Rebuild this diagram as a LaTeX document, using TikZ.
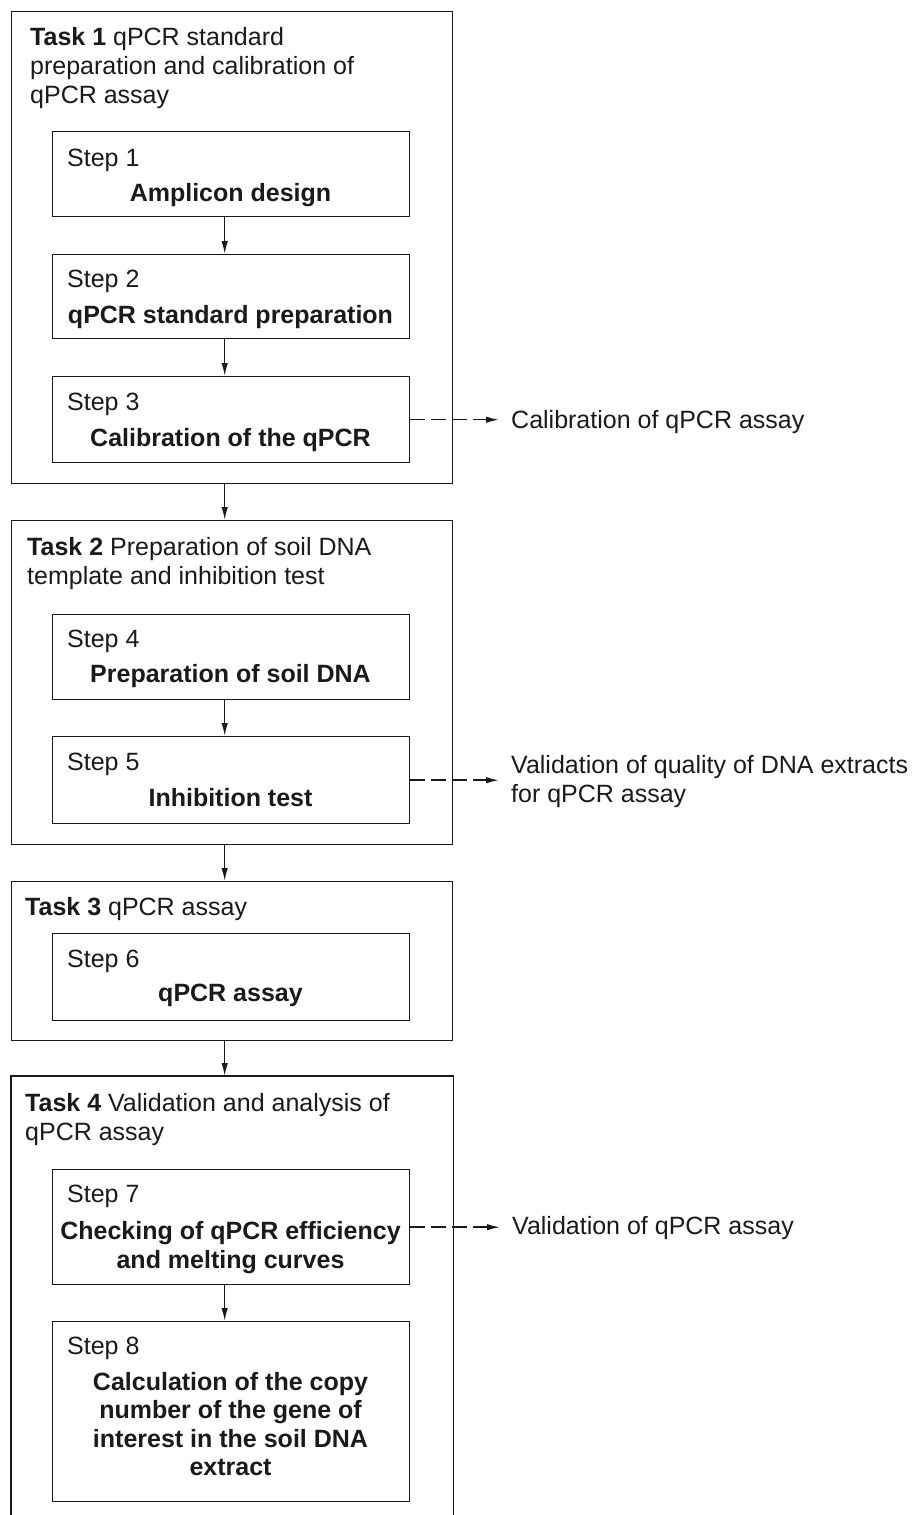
\documentclass[tikz,border=0pt]{standalone}
\usepackage{fontspec}
\setmainfont{Liberation Sans}
\usetikzlibrary{arrows.meta,calc}
\definecolor{ink}{HTML}{1A1A1A}
\begin{document}
\begin{tikzpicture}[x=1pt,y=-1pt,
  every node/.style={text=ink,font=\fontsize{25}{29}\selectfont},
  taskbox/.style={draw=ink,line width=1.4pt,minimum width=441pt,inner sep=0pt,anchor=north west},
  stepbox/.style={draw=ink,line width=1.4pt,minimum width=357pt,inner sep=0pt,anchor=north west},
  steplbl/.style={anchor=base west,inner sep=0pt},
  title/.style={anchor=north,inner sep=0pt,align=center,font=\fontsize{25}{29}\selectfont\bfseries},
  head/.style={anchor=north west,inner sep=0pt,align=left},
  note/.style={anchor=base west,inner sep=0pt},
  arr/.style={draw=ink,line width=1.5pt,-{Latex[length=13pt,width=6.5pt]}},
  dasharr/.style={draw=ink,line width=1.5pt,dash pattern=on 15pt off 6pt,-{Latex[length=13pt,width=6.5pt]}}]
\useasboundingbox (0,0) rectangle (920,1515);
\fill[white] (0,0) rectangle (920,1515);

% Task boxes
\node[taskbox,minimum height=472pt] (t1) at (11,11) {};
\node[taskbox,minimum height=324pt] (t2) at (11,520) {};
\node[taskbox,minimum height=159pt] (t3) at (11,881) {};
\node[taskbox,draw=none,minimum height=445pt] (t4) at (11,1076) {};
\draw[draw=ink,line width=1.4pt] (t4.south west) -- (t4.north west) -- (t4.north east) -- (t4.south east);

% Task headings
\node[head] (h1) at (30,26.8) {\textbf{Task 1} qPCR standard\\preparation and calibration of\\qPCR assay};
\node[head] (h2) at (27,537) {\textbf{Task 2} Preparation of soil DNA\\template and inhibition test};
\node[head] (h3) at (25,897) {\textbf{Task 3} qPCR assay};
\node[head] (h4) at (25,1093) {\textbf{Task 4} Validation and analysis of\\qPCR assay};

% Step boxes
\node[stepbox,minimum height=85pt] (s1) at (52,131) {};
\node[stepbox,minimum height=84pt] (s2) at (52,254) {};
\node[stepbox,minimum height=86pt] (s3) at (52,376) {};
\node[stepbox,minimum height=85pt] (s4) at (52,614) {};
\node[stepbox,minimum height=87pt] (s5) at (52,736) {};
\node[stepbox,minimum height=87pt] (s6) at (52,933) {};
\node[stepbox,minimum height=115pt] (s7) at (52,1169) {};
\node[stepbox,minimum height=180pt] (s8) at (52,1321) {};

% Step labels
\node[steplbl] (l1) at (67,166) {Step 1};
\node[steplbl] (l2) at (67,287) {Step 2};
\node[steplbl] (l3) at (67,410) {Step 3};
\node[steplbl] (l4) at (67,647) {Step 4};
\node[steplbl] (l5) at (67,770) {Step 5};
\node[steplbl] (l6) at (67,967) {Step 6};
\node[steplbl] (l7) at (67,1202) {Step 7};
\node[steplbl] (l8) at (67,1354) {Step 8};

% Step titles
\node[title] (n1) at (230.5,182.8) {Amplicon design};
\node[title] (n2) at (230.5,304.8) {qPCR standard preparation};
\node[title] (n3) at (230.5,427.8) {Calibration of the qPCR};
\node[title] (n4) at (230.5,663.8) {Preparation of soil DNA};
\node[title] (n5) at (230.5,787.8) {Inhibition test};
\node[title] (n6) at (230.5,983.8) {qPCR assay};
\node[title] (n7) at (230.5,1220.8) {Checking of qPCR efficiency\\and melting curves};
\node[title,font=\fontsize{25}{28.5}\selectfont\bfseries] (n8) at (230.5,1371.8) {Calculation of the copy\\number of the gene of\\interest in the soil DNA\\extract};

% Side notes
\node[note] (c3) at (511,428) {Calibration of qPCR assay};
\node[anchor=north west,inner sep=0pt,align=left] (c5) at (511,755) {Validation of quality of DNA extracts\\for qPCR assay};
\node[note] (c7) at (512,1234) {Validation of qPCR assay};

% Solid arrows
\draw[arr] ([xshift=-6.5pt]s1.south) -- ([xshift=-6.5pt]s2.north);
\draw[arr] ([xshift=-6.5pt]s2.south) -- ([xshift=-6.5pt]s3.north);
\draw[arr] ([xshift=-7.5pt]t1.south) -- ([xshift=-7.5pt]t2.north);
\draw[arr] ([xshift=-6.5pt]s4.south) -- ([xshift=-6.5pt]s5.north);
\draw[arr] ([xshift=-7.5pt]t2.south) -- ([xshift=-7.5pt]t3.north);
\draw[arr] ([xshift=-7.5pt]t3.south) -- ([xshift=-7.5pt]t4.north);
\draw[arr] ([xshift=-6.5pt]s7.south) -- ([xshift=-6.5pt]s8.north);

% Dashed arrows
\draw[dasharr] (s3.east) -- ([xshift=-12pt]s3.east -| c3.west);
\draw[dasharr] (s5.east) -- ([xshift=-12pt]s5.east -| c5.west);
\draw[dasharr] (s7.east) -- ([xshift=-12pt]s7.east -| c7.west);
\end{tikzpicture}
\end{document}
